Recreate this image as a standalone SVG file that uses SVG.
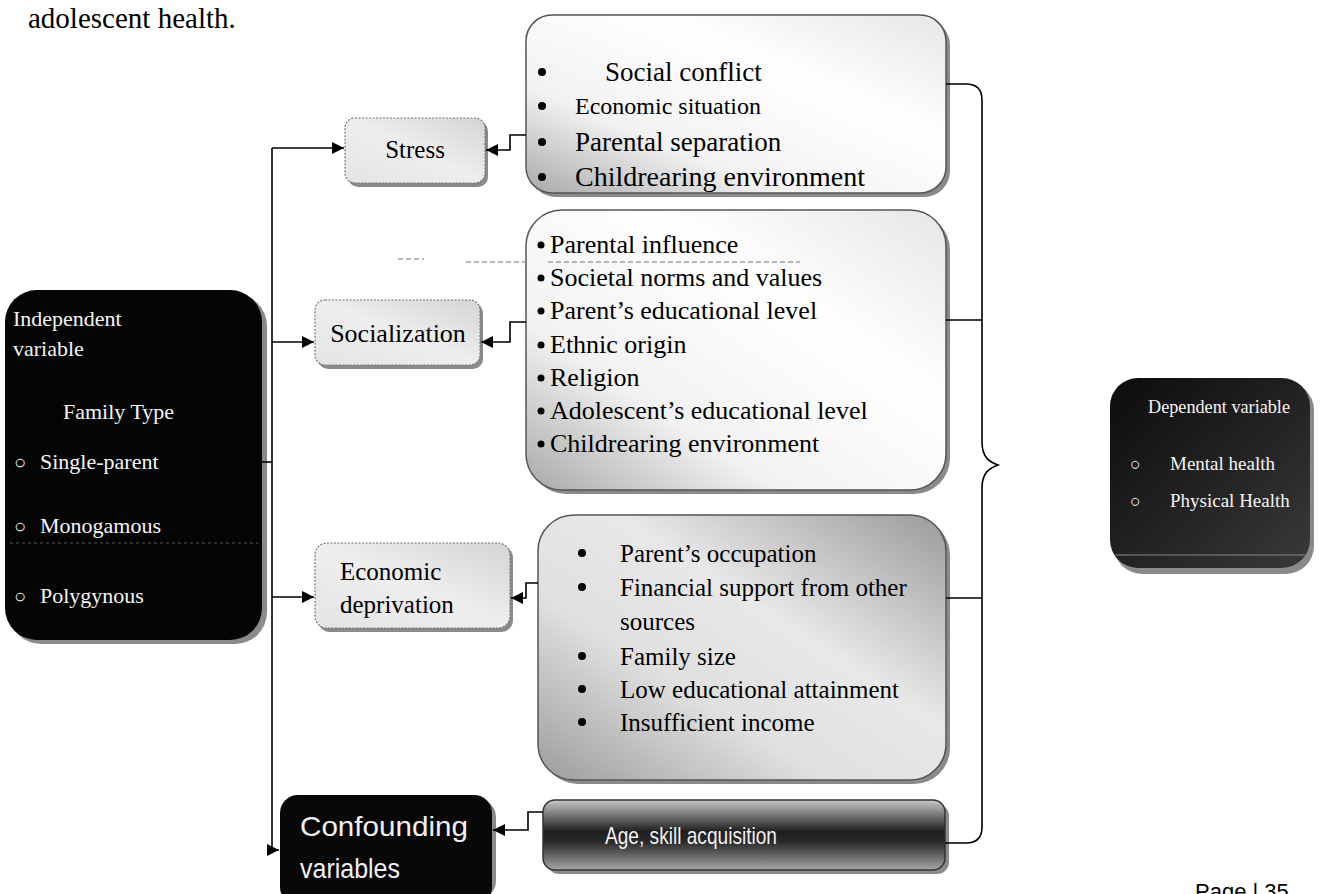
<svg xmlns="http://www.w3.org/2000/svg" width="1326" height="894" viewBox="0 0 1326 894">
<defs>
  <marker id="ah" viewBox="0 0 10 10" refX="10" refY="5" markerWidth="12" markerHeight="12" markerUnits="userSpaceOnUse" orient="auto">
    <path d="M0,0 L10,5 L0,10 z" fill="#000"/>
  </marker>
  <linearGradient id="gSmall" x1="1" y1="0" x2="0" y2="1">
    <stop offset="0" stop-color="#d4d4d4"/>
    <stop offset="0.5" stop-color="#eeeeee"/>
    <stop offset="1" stop-color="#e4e4e4"/>
  </linearGradient>
  <linearGradient id="gFac1" x1="1" y1="0" x2="0" y2="1">
    <stop offset="0" stop-color="#e6e6e6"/>
    <stop offset="0.35" stop-color="#ffffff"/>
    <stop offset="0.7" stop-color="#f2f2f2"/>
    <stop offset="1" stop-color="#a8a8a8"/>
  </linearGradient>
  <linearGradient id="gFac3" x1="1" y1="0" x2="0" y2="1">
    <stop offset="0" stop-color="#9a9a9a"/>
    <stop offset="0.4" stop-color="#e8e8e8"/>
    <stop offset="0.65" stop-color="#e0e0e0"/>
    <stop offset="1" stop-color="#9c9c9c"/>
  </linearGradient>
  <linearGradient id="gAge" x1="0" y1="0" x2="0" y2="1">
    <stop offset="0" stop-color="#c8c8c8"/>
    <stop offset="0.45" stop-color="#1e1e1e"/>
    <stop offset="0.6" stop-color="#2a2a2a"/>
    <stop offset="1" stop-color="#a6a6a6"/>
  </linearGradient>
  <linearGradient id="gDep" x1="0" y1="0" x2="1" y2="1">
    <stop offset="0" stop-color="#0c0c0c"/>
    <stop offset="0.6" stop-color="#262626"/>
    <stop offset="1" stop-color="#3a3a3a"/>
  </linearGradient>
</defs>
<style>
  .serif{font-family:"Liberation Serif","Times New Roman",serif;fill:#000;}
  .wserif{font-family:"Liberation Serif","Times New Roman",serif;fill:#f4f4f4;}
  .wsans{font-family:"Liberation Sans",Arial,sans-serif;fill:#f0f0f0;}
  .shadow{fill:#8a8a8a;}
  .small{fill:url(#gSmall);stroke:#777;stroke-width:1.2;stroke-dasharray:2 1.5;}
  .fac{stroke:#555;stroke-width:1.5;}
  .conn{fill:none;stroke:#000;stroke-width:1.6;}
  .dot{fill:#000;}
  .dash{stroke:#777;stroke-width:1;stroke-dasharray:5 3;}
</style>
<rect x="0" y="0" width="1326" height="894" fill="#fff"/>

<text class="serif" x="28" y="28" font-size="29">adolescent health.</text>

<g id="independent">
  <rect class="shadow" x="9" y="294" width="258" height="350" rx="32"/>
  <rect x="5" y="290" width="257" height="350" rx="32" fill="#050505"/>
  <line x1="10" y1="543" x2="258" y2="543" stroke="#555" stroke-width="1" stroke-dasharray="3 3"/>
  <text class="wserif" x="13" y="326" font-size="22">Independent</text>
  <text class="wserif" x="13" y="356" font-size="22">variable</text>
  <text class="wserif" x="63" y="419" font-size="22">Family Type</text>
  <text class="wserif" x="14" y="469" font-size="20">○</text>
  <text class="wserif" x="40" y="469" font-size="22">Single-parent</text>
  <text class="wserif" x="14" y="533" font-size="20">○</text>
  <text class="wserif" x="40" y="533" font-size="22">Monogamous</text>
  <text class="wserif" x="14" y="603" font-size="20">○</text>
  <text class="wserif" x="40" y="603" font-size="22">Polygynous</text>
</g>

<g id="stress">
  <rect class="shadow" x="348" y="121" width="140" height="66" rx="10"/>
  <rect class="small" x="345" y="118" width="140" height="65" rx="10"/>
  <text class="serif" x="415" y="158" font-size="25" text-anchor="middle">Stress</text>
</g>

<g id="socialization">
  <rect class="shadow" x="318" y="303" width="165" height="66" rx="10"/>
  <rect class="small" x="315" y="300" width="165" height="65" rx="10"/>
  <text class="serif" x="398" y="342" font-size="26" text-anchor="middle">Socialization</text>
</g>

<g id="economic">
  <rect class="shadow" x="318" y="546" width="195" height="86" rx="12"/>
  <rect class="small" x="315" y="543" width="195" height="85" rx="12"/>
  <text class="serif" x="340" y="580" font-size="25">Economic</text>
  <text class="serif" x="340" y="613" font-size="25">deprivation</text>
</g>

<g id="confounding">
  <rect class="shadow" x="284" y="799" width="212" height="100" rx="18"/>
  <rect x="280" y="795" width="212" height="110" rx="18" fill="#080808"/>
  <text class="wsans" x="300" y="836" font-size="28" textLength="168" lengthAdjust="spacingAndGlyphs">Confounding</text>
  <text class="wsans" x="300" y="878" font-size="28" textLength="100" lengthAdjust="spacingAndGlyphs">variables</text>
</g>

<g id="stress-factors">
  <rect class="shadow" x="530" y="19" width="420" height="178" rx="26"/>
  <rect class="fac" x="526" y="15" width="420" height="178" rx="26" fill="url(#gFac1)"/>
  <circle class="dot" cx="542" cy="72" r="4"/>
  <circle class="dot" cx="542" cy="106" r="4"/>
  <circle class="dot" cx="542" cy="142" r="4"/>
  <circle class="dot" cx="542" cy="177" r="4"/>
  <text class="serif" x="605" y="81" font-size="27">Social conflict</text>
  <text class="serif" x="575" y="114" font-size="24">Economic situation</text>
  <text class="serif" x="575" y="151" font-size="27">Parental separation</text>
  <text class="serif" x="575" y="186" font-size="28">Childrearing environment</text>
</g>

<g id="socialization-factors">
  <rect class="shadow" x="530" y="214" width="420" height="280" rx="36"/>
  <rect class="fac" x="526" y="210" width="420" height="280" rx="36" fill="url(#gFac1)"/>
  <line class="dash" x1="548" y1="262" x2="800" y2="262"/>
  <circle class="dot" cx="541" cy="245" r="3.5"/>
  <circle class="dot" cx="541" cy="278" r="3.5"/>
  <circle class="dot" cx="541" cy="311" r="3.5"/>
  <circle class="dot" cx="541" cy="345" r="3.5"/>
  <circle class="dot" cx="541" cy="378" r="3.5"/>
  <circle class="dot" cx="541" cy="411" r="3.5"/>
  <circle class="dot" cx="541" cy="444" r="3.5"/>
  <text class="serif" x="550" y="253" font-size="26">Parental influence</text>
  <text class="serif" x="550" y="286" font-size="26">Societal norms and values</text>
  <text class="serif" x="550" y="319" font-size="26">Parent’s educational level</text>
  <text class="serif" x="550" y="353" font-size="26">Ethnic origin</text>
  <text class="serif" x="550" y="386" font-size="26">Religion</text>
  <text class="serif" x="550" y="419" font-size="26">Adolescent’s educational level</text>
  <text class="serif" x="550" y="452" font-size="26">Childrearing environment</text>
</g>

<g id="economic-factors">
  <rect class="shadow" x="542" y="519" width="408" height="265" rx="36"/>
  <rect class="fac" x="538" y="515" width="408" height="265" rx="36" fill="url(#gFac3)"/>
  <circle class="dot" cx="582" cy="553" r="4"/>
  <circle class="dot" cx="582" cy="587" r="4"/>
  <circle class="dot" cx="582" cy="656" r="4"/>
  <circle class="dot" cx="582" cy="689" r="4"/>
  <circle class="dot" cx="582" cy="722" r="4"/>
  <text class="serif" x="620" y="562" font-size="25">Parent’s occupation</text>
  <text class="serif" x="620" y="596" font-size="25">Financial support from other</text>
  <text class="serif" x="620" y="630" font-size="25">sources</text>
  <text class="serif" x="620" y="665" font-size="25">Family size</text>
  <text class="serif" x="620" y="698" font-size="25">Low educational attainment</text>
  <text class="serif" x="620" y="731" font-size="25">Insufficient income</text>
</g>

<g id="age">
  <rect class="shadow" x="547" y="804" width="402" height="70" rx="12"/>
  <rect x="543" y="800" width="402" height="70" rx="12" fill="url(#gAge)" stroke="#333" stroke-width="1.5"/>
  <text class="wsans" x="605" y="844" font-size="24" textLength="172" lengthAdjust="spacingAndGlyphs">Age, skill acquisition</text>
</g>

<g id="dependent">
  <rect class="shadow" x="1114" y="382" width="200" height="192" rx="28"/>
  <rect x="1110" y="378" width="200" height="190" rx="28" fill="url(#gDep)"/>
  <line x1="1115" y1="555" x2="1305" y2="555" stroke="#888" stroke-width="1"/>
  <text class="wserif" x="1148" y="413" font-size="19" textLength="142" lengthAdjust="spacingAndGlyphs">Dependent variable</text>
  <text class="wserif" x="1130" y="470" font-size="18">○</text>
  <text class="wserif" x="1170" y="470" font-size="19">Mental health</text>
  <text class="wserif" x="1130" y="507" font-size="18">○</text>
  <text class="wserif" x="1170" y="507" font-size="19">Physical Health</text>
</g>

<g id="connectors">
  <path class="conn" d="M272,148 V850"/>
  <path class="conn" d="M262,462 H272"/>
  <path class="conn" d="M272,148 H344" marker-end="url(#ah)"/>
  <path class="conn" d="M272,342 H314" marker-end="url(#ah)"/>
  <path class="conn" d="M272,597 H314" marker-end="url(#ah)"/>
  <path class="conn" d="M272,850 H279" marker-end="url(#ah)"/>
  <path class="conn" d="M526,135 H510 V150 H486" marker-end="url(#ah)"/>
  <path class="conn" d="M526,322 H510 V342 H481" marker-end="url(#ah)"/>
  <path class="conn" d="M538,583 H526 V598 H511" marker-end="url(#ah)"/>
  <path class="conn" d="M543,812 H528 V830 H493" marker-end="url(#ah)"/>
  <path class="conn" d="M946,84 H966 Q982,84 982,100 V442 C982,458 990,462 998,465 C990,468 982,472 982,488 V827 Q982,843 966,843 H945"/>
  <path class="conn" d="M946,320 H982"/>
  <path class="conn" d="M946,598 H982"/>
  <line class="dash" x1="398" y1="259" x2="424" y2="259"/>
  <line class="dash" x1="466" y1="262" x2="525" y2="262"/>
</g>

<text x="1195" y="899" font-family="Liberation Sans, Arial, sans-serif" font-size="22" fill="#000">Page | 35</text>
</svg>
